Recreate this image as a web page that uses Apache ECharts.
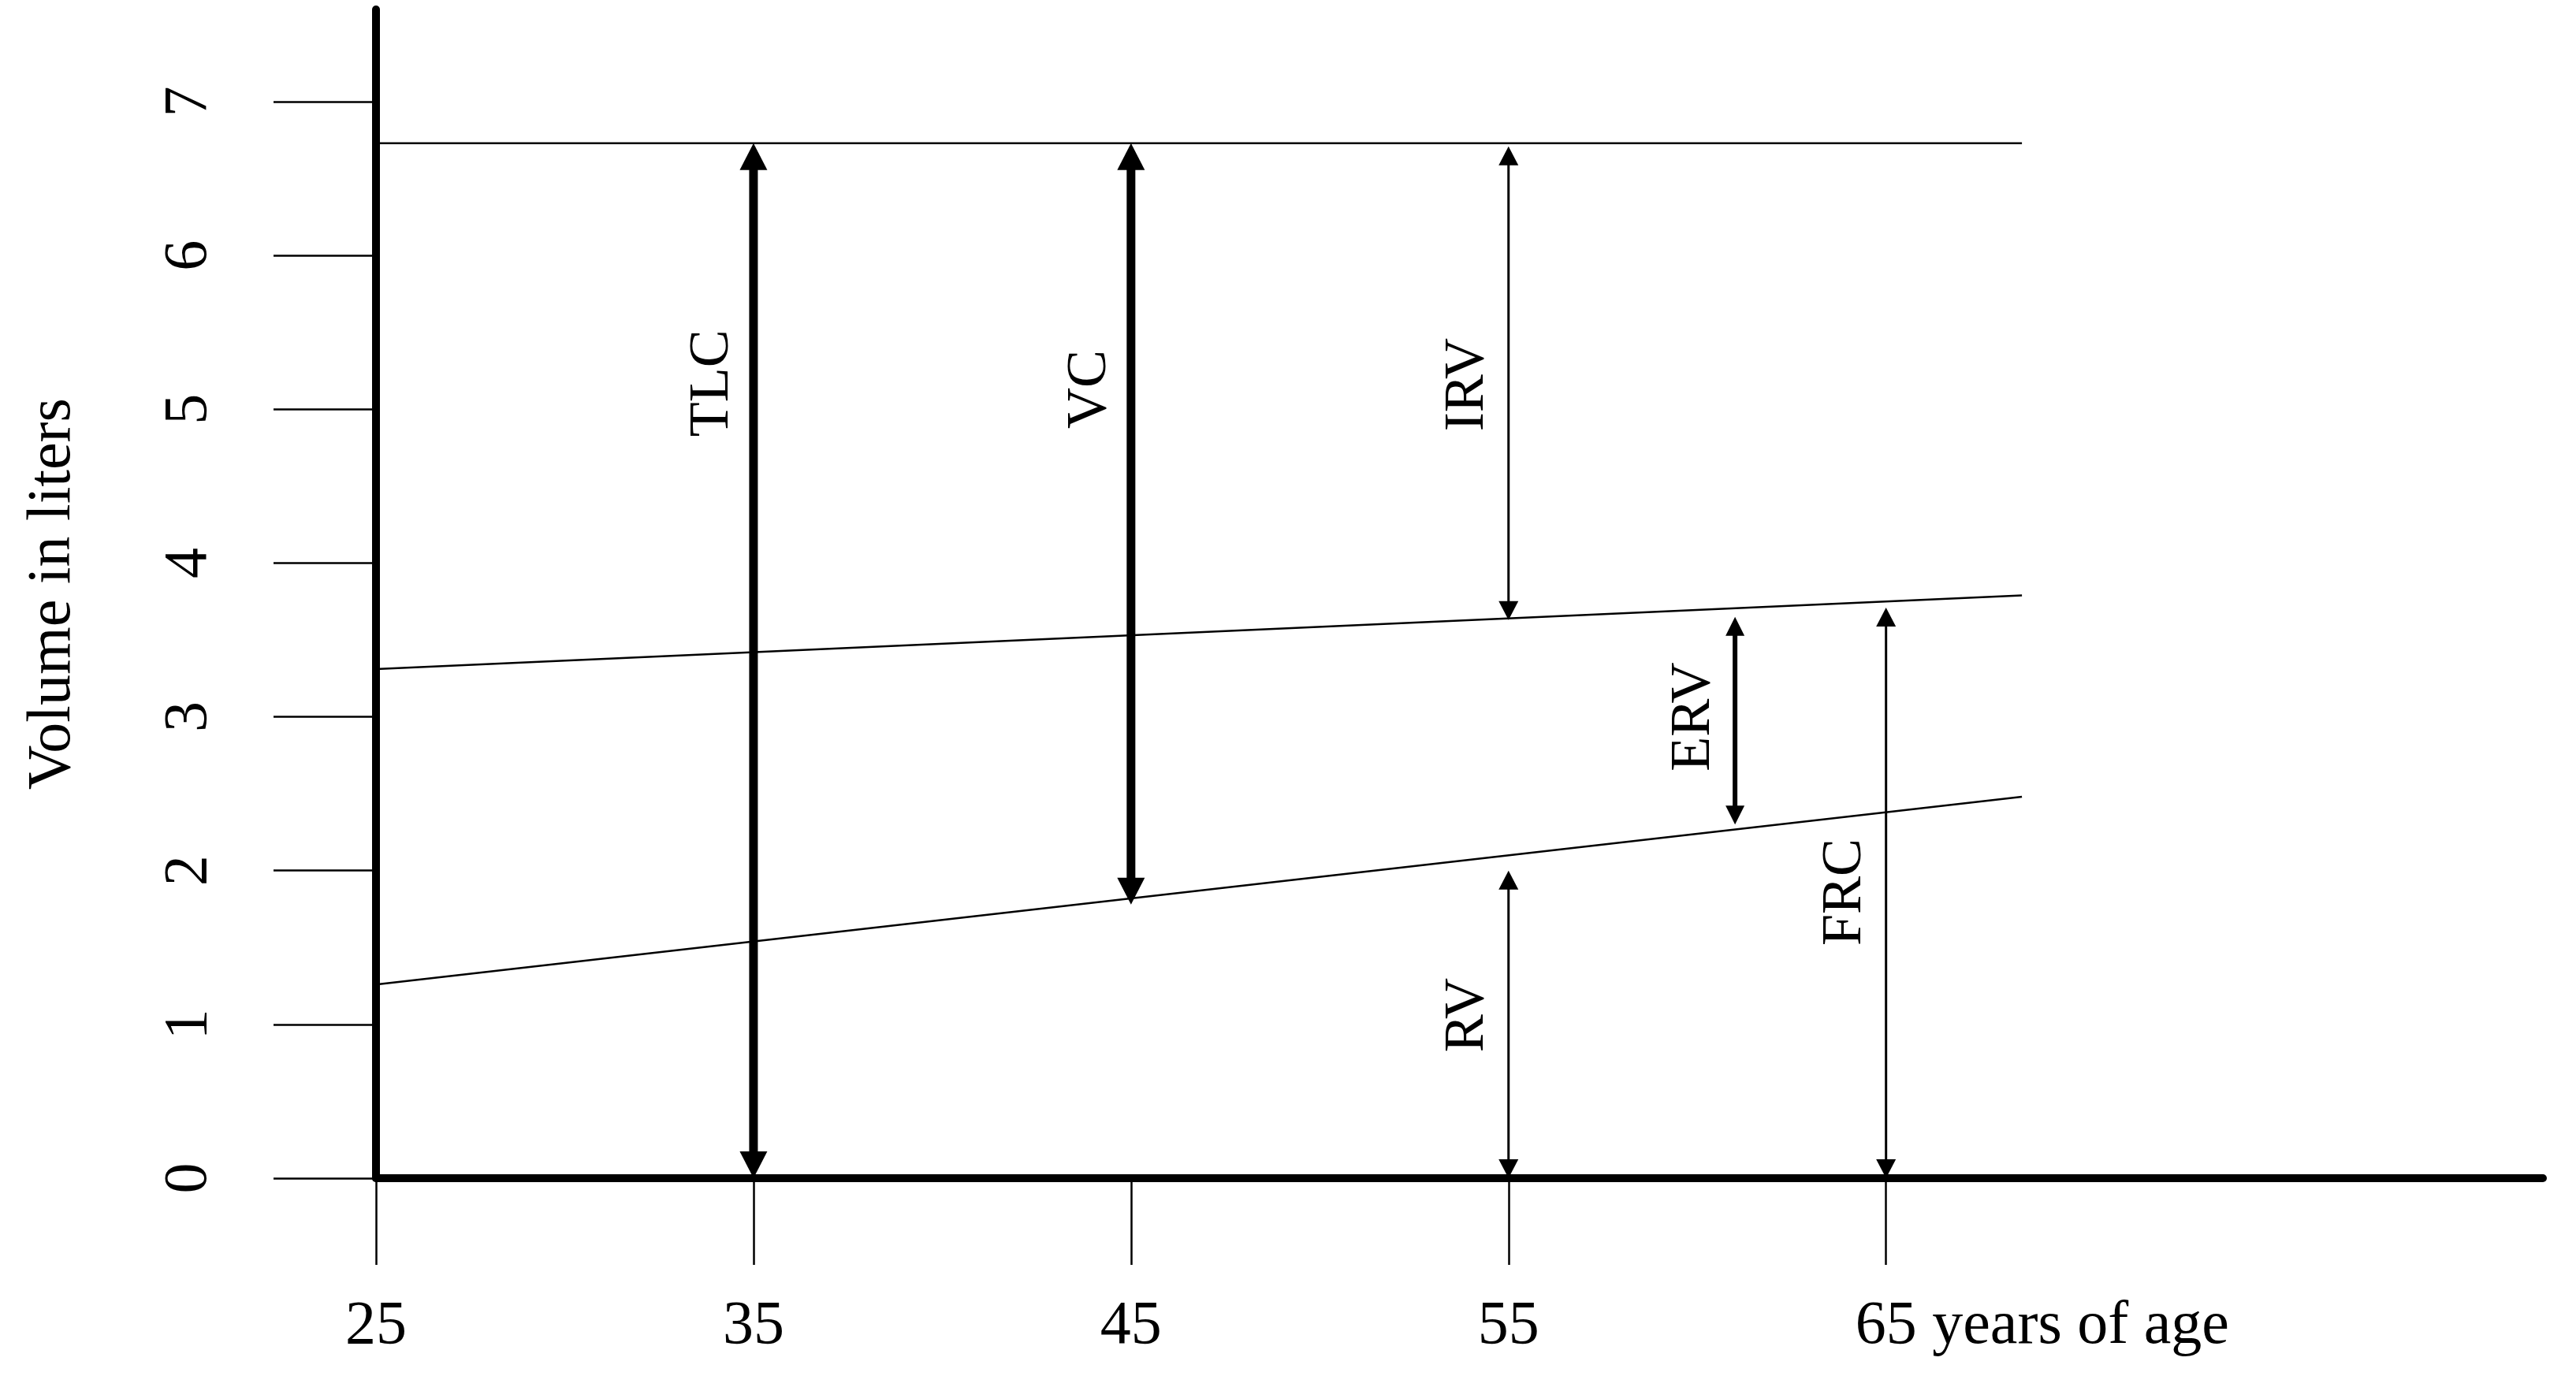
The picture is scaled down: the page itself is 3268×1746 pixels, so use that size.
<!DOCTYPE html>
<html>
<head>
<meta charset="utf-8">
<script src="https://cdn.jsdelivr.net/npm/echarts@6/dist/echarts.min.js"></script>
<style>
html,body{margin:0;padding:0;background:#fff;}
#chart{width:3268px;height:1746px;}
</style>
</head>
<body>
<div id="chart"></div>
<script>
// ---------- data ----------
const xTickValues = [25, 35, 45, 55, 65];
const xTickLabels = ['25', '35', '45', '55', '65'];
const xUnitLabel = 'years of age';
const yTickValues = [0, 1, 2, 3, 4, 5, 6, 7];
const yTickLabels = ['0', '1', '2', '3', '4', '5', '6', '7'];
const yAxisTitle = 'Volume in liters';

// boundary lines (age at start / end, volume at start / end)
const boundaryAges = [25, 68.6];
const tlcBoundary = [6.73, 6.73];
const frcBoundary = [3.31, 3.79];
const rvBoundary = [1.26, 2.48];

// double-headed arrows
const arrowNames = ['TLC', 'VC', 'IRV', 'ERV', 'FRC', 'RV'];
const arrowAges = [35, 45, 55, 61, 65, 55];
const arrowFrom = [0, 1.78, 3.63, 2.30, 0, 0];
const arrowTo = [6.73, 6.73, 6.71, 3.65, 3.71, 2.0];
const arrowLabelAt = [5.17, 5.13, 5.16, 3.0, 1.86, 1.06];

// ---------- styles ----------
const FONT = '"Liberation Serif", "DejaVu Serif", serif';
const heavy = {shaft: 11, headW: 35, headL: 34};
const medium = {shaft: 6, headW: 24, headL: 24};
const light = {shaft: 3, headW: 25, headL: 24};
const arrowStyles = {TLC: heavy, VC: heavy, ERV: medium, IRV: light, FRC: light, RV: light};

const ctx = document.createElement('canvas').getContext('2d');
ctx.font = '78px ' + FONT;
const padW = ctx.measureText(' ' + xUnitLabel).width;

const chart = echarts.init(document.getElementById('chart'), null, {renderer: 'canvas'});

function boundarySeries(vals) {
  return {
    type: 'line',
    data: boundaryAges.map((a, i) => [a, vals[i]]),
    showSymbol: false,
    symbol: 'none',
    lineStyle: {color: '#000', width: 2.5},
    silent: true,
    z: 3
  };
}

const option = {
  animation: false,
  backgroundColor: '#fff',
  grid: {left: 477, right: 42, top: 12, bottom: 251, containLabel: false, outerBoundsMode: 'none'},
  xAxis: {
    type: 'value',
    min: 25,
    max: 82.4,
    interval: 5,
    axisLine: {show: true, onZero: false, lineStyle: {color: '#000', width: 10}},
    axisTick: {show: true, customValues: xTickValues, length: 110, lineStyle: {color: '#000', width: 2.5}},
    axisLabel: {
      show: true,
      customValues: xTickValues,
      margin: 150,
      color: '#000',
      fontSize: 78,
      fontFamily: FONT,
      formatter: function (v) {
        const i = xTickValues.indexOf(v);
        if (i < 0) return '';
        if (i === xTickValues.length - 1) return '{pad| }' + xTickLabels[i] + ' ' + xUnitLabel;
        return xTickLabels[i];
      },
      rich: {pad: {width: padW, fontSize: 78, fontFamily: FONT}}
    },
    splitLine: {show: false}
  },
  yAxis: {
    type: 'value',
    min: 0,
    max: 7.6,
    interval: 1,
    name: yAxisTitle,
    nameLocation: 'middle',
    nameGap: 370,
    nameRotate: 90,
    nameTextStyle: {color: '#000', fontSize: 78, fontFamily: FONT},
    axisLine: {show: true, onZero: false, lineStyle: {color: '#000', width: 10}},
    axisTick: {show: true, customValues: yTickValues, length: 130, lineStyle: {color: '#000', width: 2.5}},
    axisLabel: {
      show: true,
      customValues: yTickValues,
      rotate: 90,
      margin: 197,
      color: '#000',
      fontSize: 78,
      fontFamily: FONT,
      formatter: function (v) {
        const i = yTickValues.indexOf(v);
        return i < 0 ? '' : yTickLabels[i];
      }
    },
    splitLine: {show: false}
  },
  series: [
    boundarySeries(tlcBoundary),
    boundarySeries(frcBoundary),
    boundarySeries(rvBoundary),
    {
      type: 'custom',
      silent: true,
      z: 4,
      clip: false,
      data: arrowNames.map((n, i) => [arrowAges[i], arrowFrom[i], arrowTo[i], arrowLabelAt[i]]),
      encode: {x: 0, y: [1, 2, 3]},
      renderItem: function (params, api) {
        const i = params.dataIndex;
        const st = arrowStyles[arrowNames[i]];
        const p0 = api.coord([api.value(0), api.value(1)]);
        const p1 = api.coord([api.value(0), api.value(2)]);
        const lp = api.coord([api.value(0), api.value(3)]);
        return {
          type: 'group',
          children: [
            {type: 'line', shape: {x1: p0[0], y1: p0[1] - st.headL + 2, x2: p1[0], y2: p1[1] + st.headL - 2},
             style: {stroke: '#000', lineWidth: st.shaft}},
            {type: 'polygon', shape: {points: [[p1[0], p1[1]], [p1[0] - st.headW / 2, p1[1] + st.headL], [p1[0] + st.headW / 2, p1[1] + st.headL]]},
             style: {fill: '#000'}},
            {type: 'polygon', shape: {points: [[p0[0], p0[1]], [p0[0] - st.headW / 2, p0[1] - st.headL], [p0[0] + st.headW / 2, p0[1] - st.headL]]},
             style: {fill: '#000'}},
            {type: 'text', x: lp[0] - 52, y: lp[1], rotation: Math.PI / 2,
             style: {text: arrowNames[i], fontSize: 72, fontFamily: FONT, fill: '#000', align: 'center', verticalAlign: 'middle'}}
          ]
        };
      }
    }
  ]
};
chart.setOption(option);
</script>
</body>
</html>
